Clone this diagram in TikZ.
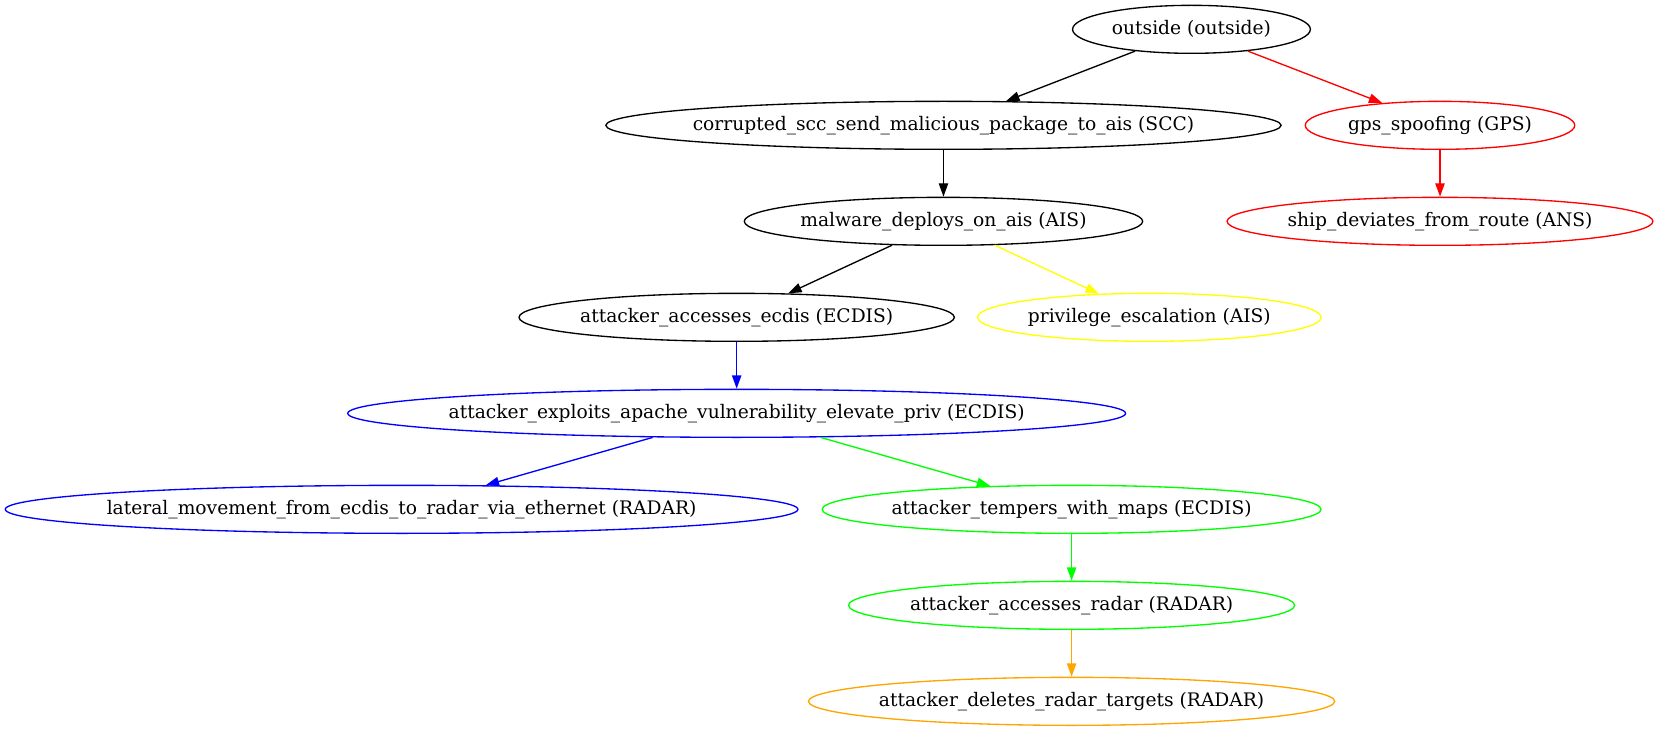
\documentclass[tikz,border=0pt]{standalone}
\usepackage{fontspec}
\setmainfont{DejaVu Serif}
\usetikzlibrary{shapes.geometric,arrows.meta}
\definecolor{gvred}{RGB}{255,0,0}
\definecolor{gvblue}{RGB}{0,0,255}
\definecolor{gvgreen}{RGB}{0,255,0}
\definecolor{gvyellow}{RGB}{255,255,0}
\definecolor{gvorange}{RGB}{255,165,0}
\begin{document}
\begin{tikzpicture}[x=1pt,y=1pt,
  gv/.style={ellipse, draw, line width=1pt, inner xsep=-30pt, inner ysep=0pt,
    minimum height=36pt, font=\fontsize{14pt}{17pt}\selectfont, text=black},
  gvedge/.style={line width=1pt, -{Triangle[length=10pt,width=7pt]}}]
\useasboundingbox (0,0) rectangle (1242.75,-548.25);
% rank 0
\node[gv, minimum width=178.4pt] (out) at (893.6,-22) {outside (outside)};
% rank 1
\node[gv, minimum width=506.5pt] (scc) at (707.6,-94) {corrupted\_scc\_send\_malicious\_package\_to\_ais (SCC)};
\node[gv, draw=gvred, minimum width=202.1pt] (gps) at (1080,-94) {gps\_spoofing (GPS)};
% rank 2
\node[gv, minimum width=298.8pt] (mal) at (707.6,-166) {malware\_deploys\_on\_ais (AIS)};
\node[gv, draw=gvred, minimum width=319.4pt] (ship) at (1080,-166) {ship\_deviates\_from\_route (ANS)};
% rank 3
\node[gv, minimum width=326.5pt] (ecd) at (552.5,-238) {attacker\_accesses\_ecdis (ECDIS)};
\node[gv, draw=gvyellow, minimum width=257.6pt] (priv) at (862,-238) {privilege\_escalation (AIS)};
% rank 4
\node[gv, draw=gvblue, minimum width=583.4pt] (expl) at (552.5,-310) {attacker\_exploits\_apache\_vulnerability\_elevate\_priv (ECDIS)};
% rank 5
\node[gv, draw=gvblue, minimum width=594.5pt] (lat) at (301.2,-382) {lateral\_movement\_from\_ecdis\_to\_radar\_via\_ethernet (RADAR)};
\node[gv, draw=gvgreen, minimum width=374.1pt] (temp) at (803.7,-382) {attacker\_tempers\_with\_maps (ECDIS)};
% rank 6
\node[gv, draw=gvgreen, minimum width=334.5pt] (rad) at (803.7,-454) {attacker\_accesses\_radar (RADAR)};
% rank 7
\node[gv, draw=gvorange, minimum width=394.7pt] (del) at (803.7,-526) {attacker\_deletes\_radar\_targets (RADAR)};
% edges
\draw[gvedge] (out) -- (scc);
\draw[gvedge, gvred] (out) -- (gps);
\draw[gvedge] (scc) -- (mal);
\draw[gvedge, gvred] (gps) -- (ship);
\draw[gvedge] (mal) -- (ecd);
\draw[gvedge, gvyellow] (mal) -- (priv);
\draw[gvedge, gvblue] (ecd) -- (expl);
\draw[gvedge, gvblue] (expl) -- (lat);
\draw[gvedge, gvgreen] (expl) -- (temp);
\draw[gvedge, gvgreen] (temp) -- (rad);
\draw[gvedge, gvorange] (rad) -- (del);
\end{tikzpicture}
\end{document}
